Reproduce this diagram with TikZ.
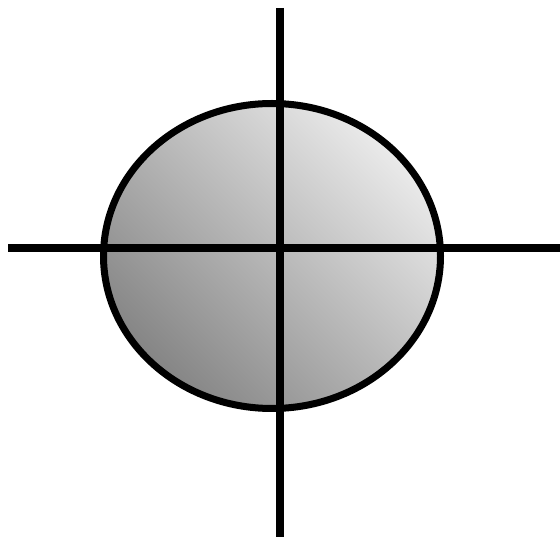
\documentclass[tikz,border=0pt]{standalone}
\usepackage{tikz}
\usetikzlibrary{shapes.geometric}

\begin{document}
\begin{tikzpicture}[
  x=1pt, y=-1pt,
  disc/.style={ellipse, draw=black, line width=7pt,
               minimum width=337pt, minimum height=305pt,
               inner sep=0pt, top color=black!8, bottom color=black!48,
               shading angle=-45},
  axisline/.style={draw=black, line width=8pt}
]
\useasboundingbox (0,0) rectangle (560,537);

% ==================== Body ====================
\node[disc] (body) at (272,256) {};

% ==================== Axis ends ===============
\coordinate (top)    at (280,8);
\coordinate (bottom) at (280,537);
\coordinate (left)   at (8,248);
\coordinate (right)  at (560,248);

% ==================== Cross ===================
\draw[axisline] (left) -- (right);
\draw[axisline] (top) -- (bottom);

\end{tikzpicture}
\end{document}
